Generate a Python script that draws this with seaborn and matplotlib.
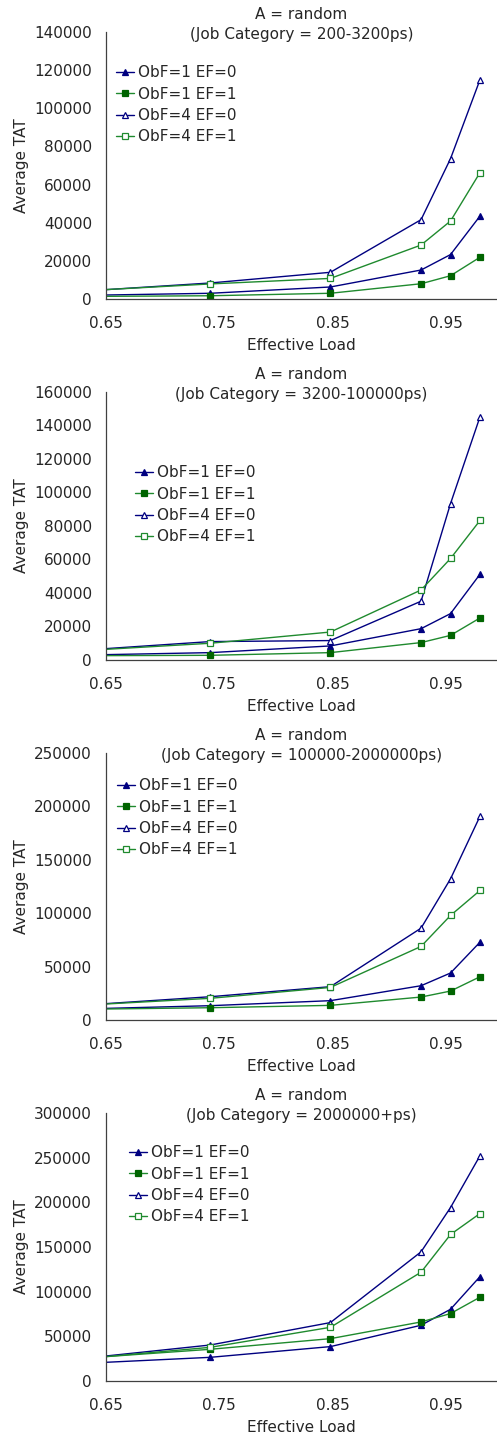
import matplotlib
matplotlib.use('Agg')
import matplotlib.pyplot as plt
import seaborn as sns
import pandas as pd

# effective load values (first point lies left of the visible axis)
load = [0.60, 0.742, 0.848, 0.928, 0.954, 0.980]

series_names = ['ObF=1 EF=0', 'ObF=1 EF=1', 'ObF=4 EF=0', 'ObF=4 EF=1']

categories = ['200-3200ps', '3200-100000ps', '100000-2000000ps', '2000000+ps']

# Average TAT per job category
cat1_obf1_ef0 = [1600, 3000, 6300, 15200, 23300, 43500]
cat1_obf1_ef1 = [1240, 1700, 3000, 8000, 12200, 21900]
cat1_obf4_ef0 = [3000, 8400, 14000, 41600, 73600, 115000]
cat1_obf4_ef1 = [3300, 7900, 10800, 28300, 40900, 66300]

cat2_obf1_ef0 = [2550, 4400, 8400, 18700, 27700, 51200]
cat2_obf1_ef1 = [2500, 2800, 4400, 10400, 14700, 25100]
cat2_obf4_ef0 = [4500, 11000, 11600, 35100, 93400, 145200]
cat2_obf4_ef1 = [4400, 10000, 16700, 41800, 60600, 83300]

cat3_obf1_ef0 = [9500, 13400, 18100, 32100, 44000, 72900]
cat3_obf1_ef1 = [9650, 11500, 13700, 21500, 27100, 40500]
cat3_obf4_ef0 = [11800, 21800, 31200, 86000, 132200, 190800]
cat3_obf4_ef1 = [12100, 20300, 30500, 68900, 97900, 121300]

cat4_obf1_ef0 = [17900, 26500, 38500, 62400, 80300, 116900]
cat4_obf1_ef1 = [22800, 35500, 47400, 66100, 75500, 93800]
cat4_obf4_ef0 = [21300, 40300, 65400, 144600, 194200, 252200]
cat4_obf4_ef1 = [21700, 37700, 60100, 121800, 164000, 187500]

panels = [
    [cat1_obf1_ef0, cat1_obf1_ef1, cat1_obf4_ef0, cat1_obf4_ef1],
    [cat2_obf1_ef0, cat2_obf1_ef1, cat2_obf4_ef0, cat2_obf4_ef1],
    [cat3_obf1_ef0, cat3_obf1_ef1, cat3_obf4_ef0, cat3_obf4_ef1],
    [cat4_obf1_ef0, cat4_obf1_ef1, cat4_obf4_ef0, cat4_obf4_ef1],
]
y_max = [140000, 160000, 250000, 300000]
y_step = [20000, 20000, 50000, 50000]

sns.set_style('white')
plt.rcParams['font.family'] = ['DejaVu Sans']
fs = 11

navy = '#000080'
green = '#1f8a2e'
dgreen = '#006400'
styles = [
    dict(color=navy, marker='^', markerfacecolor=navy, markeredgecolor=navy, markersize=5),
    dict(color=green, marker='s', markerfacecolor=dgreen, markeredgecolor=dgreen, markersize=4.5),
    dict(color=navy, marker='^', markerfacecolor='white', markeredgecolor=navy, markersize=5),
    dict(color=green, marker='s', markerfacecolor='white', markeredgecolor=green, markersize=4.5),
]

W, H = 497, 1436
fig = plt.figure(figsize=(W / 100, H / 100), dpi=100)

# axes boxes in pixels (top, bottom)
boxes = [(32, 299), (392, 660), (753, 1020), (1113, 1381)]
legend_pos = [(0.026, 0.876), (0.074, 0.727), (0.028, 0.906), (0.059, 0.880)]
left_px, right_px = 106, 497

for i, (top, bottom) in enumerate(boxes):
    ax = fig.add_axes([left_px / W, 1 - bottom / H, (right_px - left_px) / W, (bottom - top) / H])
    for name, vals, st in zip(series_names, panels[i], styles):
        df = pd.DataFrame({'load': load, 'tat': vals})
        sns.lineplot(data=df, x='load', y='tat', ax=ax, label=name, linewidth=1.0,
                     markeredgewidth=0.9, sort=False, **st)
    ax.set_xlim(0.65, 0.995)
    ax.set_ylim(0, y_max[i])
    ax.set_xticks([0.65, 0.75, 0.85, 0.95])
    ax.set_xticklabels(['0.65', '0.75', '0.85', '0.95'])
    ax.set_yticks(range(0, y_max[i] + 1, y_step[i]))
    ax.set_yticklabels([str(v) for v in range(0, y_max[i] + 1, y_step[i])])
    ax.tick_params(axis='x', direction='out', length=4, width=0.8, pad=8, labelsize=fs, color='#404040')
    ax.tick_params(axis='y', direction='out', length=4.5, width=0.8, pad=5.5, labelsize=fs, color='#404040')
    for s in ['top', 'right']:
        ax.spines[s].set_visible(False)
    for s in ['left', 'bottom']:
        ax.spines[s].set_color('#404040')
        ax.spines[s].set_linewidth(0.9)
    ax.set_xlabel('Effective Load', fontsize=fs, labelpad=5)
    ax.set_ylabel('Average TAT', fontsize=fs, labelpad=4)
    ax.set_title('A = random\n(Job Category = ' + categories[i] + ')', fontsize=fs, pad=-5,
                 linespacing=1.4)
    ax.legend(loc='upper left', bbox_to_anchor=legend_pos[i], frameon=False, fontsize=fs,
              borderpad=0, borderaxespad=0, handlelength=1.15, handletextpad=0.3,
              labelspacing=0.42)

fig.savefig('out.png', dpi=100)
